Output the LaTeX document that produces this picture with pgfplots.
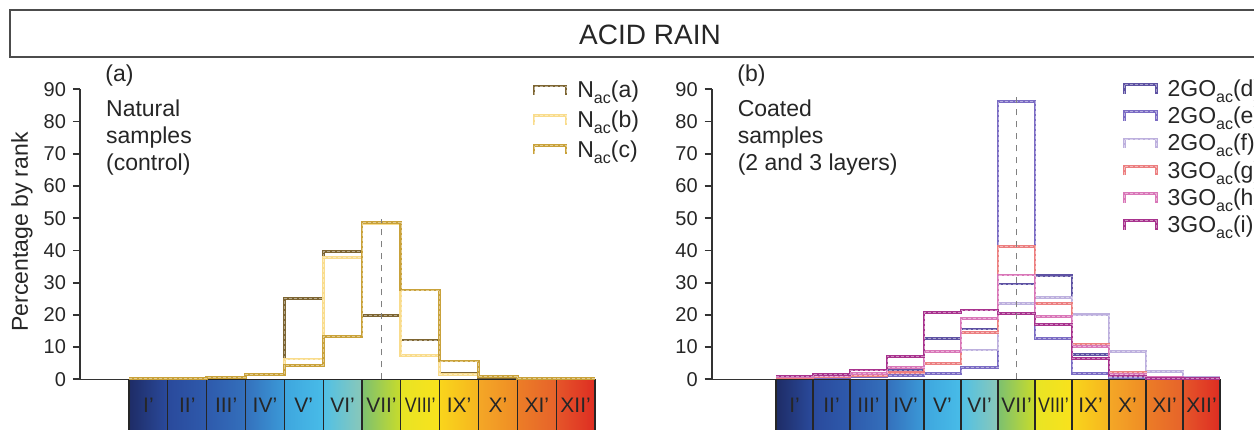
\documentclass[border=0pt]{standalone}
\usepackage{pgfplots}
\pgfplotsset{compat=1.18}
\usepackage{fontspec}
\setmainfont{Liberation Sans}
\definecolor{ca}{HTML}{7D6532}
\definecolor{cb}{HTML}{F9DC8C}
\definecolor{cc}{HTML}{C9A23A}
\definecolor{cd}{HTML}{5E52A3}
\definecolor{ce}{HTML}{7B6CC4}
\definecolor{cf}{HTML}{BDB0DE}
\definecolor{cg}{HTML}{EC7F80}
\definecolor{ch}{HTML}{D977B8}
\definecolor{ci}{HTML}{A8338E}
% colour bar colours
\definecolor{k0}{HTML}{1E2C66}\definecolor{k1}{HTML}{2A4A9C}
\definecolor{k2}{HTML}{2E5AAC}\definecolor{k3}{HTML}{3470BC}
\definecolor{k4}{HTML}{3B9AD8}\definecolor{k5a}{HTML}{3EA6DE}
\definecolor{k5b}{HTML}{48BCE8}\definecolor{k6a}{HTML}{50C0E6}
\definecolor{k6b}{HTML}{8AC8B8}\definecolor{k7a}{HTML}{7CC070}
\definecolor{k7m}{HTML}{4DAE32}\definecolor{k7b}{HTML}{C9DC2A}
\definecolor{k8a}{HTML}{E8E424}\definecolor{k8b}{HTML}{F9E21C}
\definecolor{k9a}{HTML}{F9D51C}\definecolor{k9b}{HTML}{F6B51F}
\definecolor{k10a}{HTML}{F4A726}\definecolor{k10b}{HTML}{EF8C25}
\definecolor{k11a}{HTML}{EC7D27}\definecolor{k11b}{HTML}{E6632A}
\definecolor{k12a}{HTML}{E5562A}\definecolor{k12b}{HTML}{DE2D22}
\newcommand\ac{\raisebox{-0.5ex}{\fontsize{8}{8}\selectfont ac}}
\newcommand\cell[5]{%
  \fill[left color=#3,right color=#4] (axis cs:#1,0) rectangle (axis cs:#2,-16);
  \node[font=\fontsize{10.5}{11}\selectfont,inner sep=0pt,text=black!85] at (axis cs:#1+0.5,-8) {#5};}
\newcommand\colorbar{%
  \cell{0}{1}{k0}{k1}{I'}
  \cell{1}{2}{k1}{k2}{II'}
  \cell{2}{3}{k2}{k3}{III'}
  \cell{3}{4}{k3}{k4}{IV'}
  \cell{4}{5}{k5a}{k5b}{V'}
  \cell{5}{6}{k6a}{k6b}{VI'}
  \fill[left color=k7a,middle color=k7m,right color=k7b] (axis cs:6,0) rectangle (axis cs:7,-16);
  \node[font=\fontsize{10.5}{11}\selectfont,inner sep=0pt,text=black!85] at (axis cs:6.5,-8) {VII'};
  \cell{7}{8}{k8a}{k8b}{\scalebox{0.85}[1]{VIII'}}
  \cell{8}{9}{k9a}{k9b}{IX'}
  \cell{9}{10}{k10a}{k10b}{X'}
  \cell{10}{11}{k11a}{k11b}{XI'}
  \cell{11}{12}{k12a}{k12b}{XII'}
  \draw[black!85,line width=0.6pt] (axis cs:0,-16) -- (axis cs:0,0) -- (axis cs:12,0) -- (axis cs:12,-16);
  \draw[black!85,line width=0.6pt] (axis cs:1,0) -- (axis cs:1,-16) (axis cs:2,0) -- (axis cs:2,-16)
     (axis cs:3,0) -- (axis cs:3,-16) (axis cs:4,0) -- (axis cs:4,-16) (axis cs:5,0) -- (axis cs:5,-16)
     (axis cs:6,0) -- (axis cs:6,-16) (axis cs:7,0) -- (axis cs:7,-16) (axis cs:8,0) -- (axis cs:8,-16)
     (axis cs:9,0) -- (axis cs:9,-16) (axis cs:10,0) -- (axis cs:10,-16) (axis cs:11,0) -- (axis cs:11,-16);}
\pgfplotsset{
  panel/.style={
    scale only axis, height=145pt, ymin=0, ymax=90, xmax=12,
    axis lines*=left, ytick={0,10,...,90}, xtick=\empty,
    tick align=outside, major tick length=3.5pt,
    y axis line style={line width=0.9pt, draw=black!80},
    x axis line style={line width=0.7pt, draw=black!80},
    ytick style={line width=0.9pt, draw=black!80},
    tick label style={font=\fontsize{10}{11}\selectfont, text=black!85},
    /pgf/number format/assume math mode=true,
    clip=false, anchor=south west,
    legend cell align=left,
    legend style={draw=none, fill=none, anchor=north west, inner sep=0pt,
      font=\fontsize{11.5}{12}\selectfont, nodes={inner sep=1.5pt, text=black!85}},
    legend image code/.code={\draw[##1] (0pt,-2pt) -- (0pt,2.5pt) -- (16pt,2.5pt) -- (16pt,-2pt); \path (19.5pt,0pt);},
  },
  st/.style={const plot, mark=none, line width=1.4pt,
    postaction={draw=white, draw opacity=0.45, line width=0.35pt, dash pattern=on 1.5pt off 1pt}},
}
\begin{document}
\begin{tikzpicture}
% title box
\draw[black!70,line width=0.8pt] (630pt,186pt) -- (5pt,186pt) -- (5pt,209.5pt) -- (630pt,209.5pt);
\node[font=\fontsize{14}{15}\selectfont,text=black!85] at (325pt,197pt) {ACID RAIN};
% ---------------- left panel
\begin{axis}[panel, at={(40pt,24.85pt)}, width=257.5pt, xmin=-1.263,
  ylabel={Percentage by rank},
  ylabel style={at={(axis description cs:-0.1126,0.508)}, anchor=center, font=\fontsize{11.5}{12}\selectfont, text=black!85},
  legend style={at={(0.878,1.04)}, row sep=2pt}]
\colorbar
\addplot[st, color=ca] coordinates {(0,0.3)(1,0.3)(2,0.6)(3,1.5)(4,25.2)(5,39.6)(6,19.8)(7,12.2)(8,1.9)(9,0.5)(10,0.3)(11,0.2)(12,0.2)};
\addplot[st, color=cb] coordinates {(0,0.3)(1,0.3)(2,0.6)(3,1.5)(4,6.3)(5,37.9)(6,48.3)(7,7.3)(8,1.5)(9,0.8)(10,0.3)(11,0.2)(12,0.2)};
\addplot[st, color=cc] coordinates {(0,0.3)(1,0.3)(2,0.6)(3,1.5)(4,4.2)(5,13.2)(6,48.6)(7,27.7)(8,5.7)(9,0.8)(10,0.3)(11,0.2)(12,0.2)};
\addplot[forget plot, gray, dashed, line width=0.6pt] coordinates {(6.5,0)(6.5,49.7)};
\legend{N\ac(a),N\ac(b),N\ac(c)}
\node[anchor=west,inner sep=0pt,font=\fontsize{11.5}{13.5}\selectfont,text=black!85] at (axis description cs:0.0485,1.049) {(a)};
\node[anchor=north west,align=left,inner sep=0pt,font=\fontsize{11.5}{13.5}\selectfont,text=black!85] at (axis description cs:0.05,0.9666) {Natural\\samples\\(control)};
\end{axis}
% ---------------- right panel
\begin{axis}[panel, at={(355.85pt,24.85pt)}, width=254.15pt, xmin=-1.738,
  legend style={at={(0.808,1.045)}, row sep=0.8pt}]
\colorbar
\addplot[st, color=cd] coordinates {(0,0.8)(1,1.0)(2,1.5)(3,2.9)(4,12.7)(5,15.6)(6,29.6)(7,32.1)(8,7.6)(9,0.8)(10,0.5)(11,0.3)(12,0.3)};
\addplot[st, color=ce] coordinates {(0,0.5)(1,0.5)(2,0.8)(3,1.2)(4,1.7)(5,3.7)(6,86.2)(7,12.7)(8,1.9)(9,0.5)(10,0.3)(11,0.2)(12,0.2)};
\addplot[st, color=cf] coordinates {(0,0.5)(1,0.8)(2,1.2)(3,2.0)(4,4.8)(5,9.1)(6,23.6)(7,25.4)(8,20.0)(9,8.6)(10,2.4)(11,0.7)(12,0.7)};
\addplot[st, color=cg] coordinates {(0,0.5)(1,0.8)(2,1.2)(3,2.0)(4,5.0)(5,14.6)(6,41.2)(7,23.6)(8,10.7)(9,2.1)(10,0.5)(11,0.3)(12,0.3)};
\addplot[st, color=ch] coordinates {(0,0.8)(1,1.0)(2,1.8)(3,3.7)(4,8.6)(5,18.9)(6,32.4)(7,19.4)(8,10.2)(9,1.5)(10,0.5)(11,0.3)(12,0.3)};
\addplot[st, color=ci] coordinates {(0,1.0)(1,1.5)(2,2.9)(3,7.2)(4,20.7)(5,21.5)(6,20.5)(7,16.9)(8,6.5)(9,1.0)(10,0.3)(11,0.2)(12,0.2)};
\addplot[forget plot, gray, dashed, line width=0.6pt] coordinates {(6.5,0)(6.5,88.8)};
\legend{2GO\ac(d),2GO\ac(e),2GO\ac(f),3GO\ac(g),3GO\ac(h),3GO\ac(i)}
\node[anchor=west,inner sep=0pt,font=\fontsize{11.5}{13.5}\selectfont,text=black!85] at (axis description cs:0.0498,1.049) {(b)};
\node[anchor=north west,align=left,inner sep=0pt,font=\fontsize{11.5}{13.5}\selectfont,text=black!85] at (axis description cs:0.0505,0.9666) {Coated\\samples\\(2 and 3 layers)};
\end{axis}
\pgfresetboundingbox
\path[use as bounding box] (0,0) rectangle (627pt,214.5pt);
\end{tikzpicture}
\end{document}
